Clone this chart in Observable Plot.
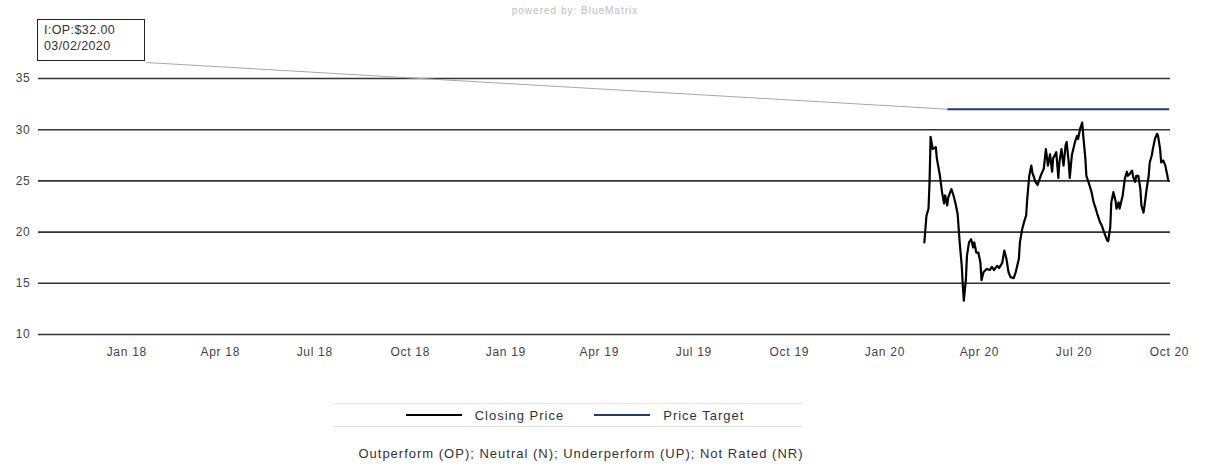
<!DOCTYPE html>
<html>
<head>
<meta charset="utf-8">
<script src="https://cdn.jsdelivr.net/npm/d3@7"></script>
<script src="https://cdn.jsdelivr.net/npm/@observablehq/plot@0.6"></script>
<style>
  html, body { margin: 0; padding: 0; background: #fff; }
  #wrap { position: relative; width: 1206px; height: 467px; overflow: hidden; font-family: "Liberation Sans", Arial, sans-serif; color: #333; }
  #powered { position: absolute; top: 5px; left: 475px; width: 200px; text-align: center; font-size: 10px; letter-spacing: 1px; color: #bdbdbd; }
  #chart { position: absolute; top: 0; left: 0; }
  #box { position: absolute; left: 37px; top: 19px; width: 100px; height: 38px; border: 1.5px solid #222; font-size: 12.5px; line-height: 16px; padding: 2px 0 0 6px; box-sizing: content-box; color: #333; letter-spacing: 0.4px; background: #fff; }
  #legend { position: absolute; left: 333px; top: 403px; width: 469px; height: 24px; padding-left: 15px; box-sizing: border-box; border-top: 1px solid #e2e2e2; border-bottom: 1px solid #e2e2e2; display: flex; justify-content: center; align-items: center; gap: 30px; font-size: 13px; letter-spacing: 1px; color: #333; }
  .item { display: flex; align-items: center; gap: 13px; }
  .sw { width: 56px; height: 0; border-top: 2px solid #000; }
  #caption { position: absolute; top: 446px; left: 0; width: 1162px; text-align: center; font-size: 13px; letter-spacing: 1px; color: #333; }
</style>
</head>
<body>
<div id="wrap">
  <div id="powered"></div>
  <div id="chart"></div>
  <div id="box"></div>
  <div id="legend"></div>
  <div id="caption"></div>
</div>
<script>
// ---- data ----
const closeDates = [
  "2020-02-08","2020-02-10","2020-02-12","2020-02-13","2020-02-14","2020-02-16","2020-02-19","2020-02-20","2020-02-23","2020-02-25",
  "2020-02-27","2020-02-28","2020-03-01","2020-03-02","2020-03-05","2020-03-07","2020-03-09","2020-03-11","2020-03-13","2020-03-15",
  "2020-03-16","2020-03-17","2020-03-19","2020-03-20","2020-03-22","2020-03-24","2020-03-26","2020-03-27","2020-03-29","2020-03-31",
  "2020-04-02","2020-04-03","2020-04-05","2020-04-08","2020-04-11","2020-04-13","2020-04-15","2020-04-18","2020-04-20","2020-04-23",
  "2020-04-25","2020-04-27","2020-04-29","2020-05-01","2020-05-04","2020-05-06","2020-05-09","2020-05-10","2020-05-12","2020-05-14",
  "2020-05-16","2020-05-17","2020-05-19","2020-05-21","2020-05-22","2020-05-25","2020-05-27","2020-05-30","2020-06-02","2020-06-04",
  "2020-06-06","2020-06-08","2020-06-10","2020-06-11","2020-06-14","2020-06-16","2020-06-17","2020-06-19","2020-06-21","2020-06-23",
  "2020-06-24","2020-06-26","2020-06-27","2020-06-29","2020-07-02","2020-07-04","2020-07-05","2020-07-07","2020-07-09","2020-07-10",
  "2020-07-12","2020-07-13","2020-07-15","2020-07-18","2020-07-20","2020-07-22","2020-07-24","2020-07-26","2020-07-28","2020-07-30",
  "2020-08-02","2020-08-03","2020-08-05","2020-08-06","2020-08-08","2020-08-10","2020-08-11","2020-08-13","2020-08-14","2020-08-17",
  "2020-08-19","2020-08-21","2020-08-22","2020-08-24","2020-08-26","2020-08-27","2020-08-29","2020-08-30","2020-09-01","2020-09-03",
  "2020-09-04","2020-09-06","2020-09-07","2020-09-09","2020-09-11","2020-09-12","2020-09-14","2020-09-15","2020-09-17","2020-09-19",
  "2020-09-20","2020-09-22","2020-09-23","2020-09-25","2020-09-27","2020-09-28","2020-09-30"
];
const closeValues = [
  19.0,21.6,22.3,24.9,29.3,28.1,28.3,27.2,25.5,23.9,
  22.8,23.6,22.6,23.4,24.2,23.6,22.8,21.8,19.0,16.7,
  14.8,13.3,15.4,17.7,19.0,19.3,18.5,19.0,18.0,18.0,
  17.0,15.3,16.1,16.4,16.3,16.6,16.3,16.7,16.5,17.0,
  18.2,17.4,16.1,15.6,15.5,16.1,17.4,19.0,20.2,21.0,
  21.6,23.2,25.5,26.5,25.8,24.9,24.6,25.5,26.2,28.1,
  26.5,27.6,25.9,27.2,27.8,25.3,26.8,28.1,26.5,28.5,
  28.8,26.8,25.3,27.5,28.8,29.4,29.1,30.1,30.7,29.4,
  27.2,25.5,24.9,23.9,22.9,22.3,21.6,21.0,20.6,20.0,
  19.2,19.1,20.5,22.9,23.9,23.1,22.3,22.9,22.3,23.6,
  25.2,25.9,25.5,25.7,26.0,25.4,24.9,25.5,25.5,24.2,
  22.6,21.9,22.6,24.2,25.5,26.8,27.5,28.1,29.1,29.6,
  29.4,28.1,26.8,27.0,26.5,26.0,25.0
];
const targetDates = ["2020-03-02", "2020-09-30"];
const targetValues = [32, 32];
const ratingLabel = ["I:OP:$32.00", "03/02/2020"];
const annotationAnchor = { date: "2018-01-20", value: 36.56 };
const xDomain = ["2017-10-08", "2020-10-02"];
const yDomain = [10, 35];
const yTicks = [10, 15, 20, 25, 30, 35];
const xTickDates = ["2018-01-01","2018-04-01","2018-07-01","2018-10-01","2019-01-01","2019-04-01","2019-07-01","2019-10-01","2020-01-01","2020-04-01","2020-07-01","2020-10-01"];
const seriesNames = ["Closing Price", "Price Target"];
const seriesColors = ["#000000", "#1f3a7a"];
const poweredBy = "powered by: BlueMatrix";
const captionText = "Outperform (OP); Neutral (N); Underperform (UP); Not Rated (NR)";

// ---- build ----
const parse = d3.utcParse("%Y-%m-%d");
const closing = closeDates.map((d, i) => ({ date: parse(d), value: closeValues[i] }));
const target = targetDates.map((d, i) => ({ date: parse(d), value: targetValues[i] }));
const connector = [{ x1: parse(annotationAnchor.date), y1: annotationAnchor.value, x2: parse(targetDates[0]), y2: targetValues[0] }];

const chart = Plot.plot({
  width: 1206,
  height: 365,
  marginLeft: 38,
  marginRight: 36,
  marginTop: 78,
  marginBottom: 31,
  style: { fontFamily: "'Liberation Sans', Arial, sans-serif", fontSize: "12px", letterSpacing: "0.7px", color: "#444", background: "transparent" },
  x: { type: "utc", domain: xDomain.map(parse) },
  y: { domain: yDomain },
  marks: [
    Plot.ruleY(yTicks, { stroke: "#333", strokeWidth: 1.6 }),
    Plot.axisY({ ticks: yTicks, tickSize: 0, tickPadding: 8, fontSize: 12, fill: "#444" }),
    Plot.axisX({ ticks: xTickDates.map(parse), tickFormat: d3.utcFormat("%b %y"), tickSize: 0, tickPadding: 13, fontSize: 12, fill: "#444" }),
    Plot.link(connector, { x1: "x1", y1: "y1", x2: "x2", y2: "y2", stroke: "#a8a8a8", strokeWidth: 1 }),
    Plot.line(target, { x: "date", y: "value", stroke: seriesColors[1], strokeWidth: 2 }),
    Plot.line(closing, { x: "date", y: "value", stroke: seriesColors[0], strokeWidth: 2.2 })
  ]
});
document.getElementById("chart").appendChild(chart);

document.getElementById("powered").textContent = poweredBy;
document.getElementById("box").innerHTML = ratingLabel.map(t => `<div>${t}</div>`).join("");
document.getElementById("legend").innerHTML = seriesNames.map((n, i) =>
  `<div class="item"><div class="sw" style="border-top-color:${seriesColors[i]}"></div><span>${n}</span></div>`).join("");
document.getElementById("caption").textContent = captionText;
</script>
</body>
</html>
